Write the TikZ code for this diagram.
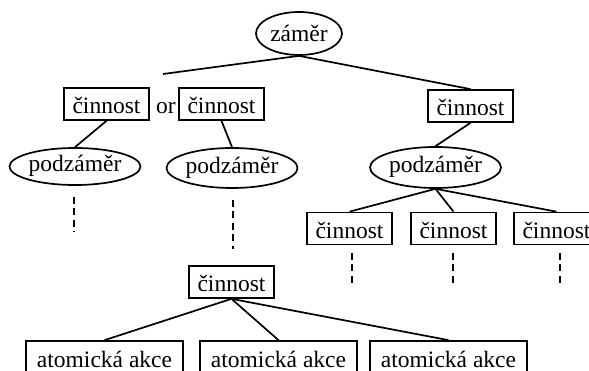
\documentclass[tikz,border=0pt]{standalone}
\usepackage{fontspec}
\setmainfont{Liberation Serif}
\usetikzlibrary{shapes.geometric}
\begin{document}
\begin{tikzpicture}[x=1pt,y=-1pt,
  every node/.style={font=\fontsize{23.5}{28}\selectfont},
  line/.style={line width=1.7pt},
  dline/.style={line width=1.7pt,dash pattern=on 7pt off 4.5pt},
  box/.style={draw,line width=1.7pt,inner sep=0pt,minimum height=32pt,text height=20pt,text depth=0pt},
  actbox/.style={box,minimum width=85pt},
  atombox/.style={box,minimum width=157pt},
  goal/.style={draw,ellipse,line width=1.7pt,inner sep=0pt,text height=15pt,text depth=4pt}]
\clip (0,0) rectangle (589,371);
% nodes
\node[goal,minimum width=86pt,minimum height=43pt,text height=17pt,text depth=1pt] (root) at (299,33.5) {záměr};
\node[actbox] (a1) at (106.5,104) {činnost};
\node[text height=20pt,text depth=0pt,inner sep=0pt] (or) at (166,104) {or};
\node[actbox] (a2) at (221.5,104) {činnost};
\node[actbox] (a3) at (470.5,106) {činnost};
\node[goal,minimum width=126pt,minimum height=37pt] (p1) at (75,166.5) {podzáměr};
\node[goal,minimum width=130pt,minimum height=40pt] (p2) at (232,168) {podzáměr};
\node[goal,minimum width=127pt,minimum height=41pt] (p3) at (435.5,167.5) {podzáměr};
\node[actbox] (b1) at (349.5,228.5) {činnost};
\node[actbox] (b2) at (453.5,228.5) {činnost};
\node[actbox] (b3) at (556.5,228.5) {činnost};
\node[actbox] (c) at (231.5,282) {činnost};
\node[atombox] (t1) at (104.5,357) {atomická akce};
\node[atombox] (t2) at (278.5,357) {atomická akce};
\node[atombox] (t3) at (448.5,357) {atomická akce};
% free ends
\coordinate (free) at (163,74);
\coordinate (d1a) at (74,197); \coordinate (d1b) at (74,232);
\coordinate (d2a) at (233,200); \coordinate (d2b) at (233,249);
\coordinate (d3a) at (352,253); \coordinate (d3b) at (352,287);
\coordinate (d4a) at (453,253); \coordinate (d4b) at (453,287);
\coordinate (d5a) at (560,253); \coordinate (d5b) at (560,287);
% connectors
\draw[line] (root.south) -- (free);
\draw[line] (root.south) -- (a3.north);
\draw[line] (a1.south) -- (p1.north);
\draw[line] (a2.south) -- (p2.north);
\draw[line] (a3.south) -- (p3.north);
\draw[line] (p3.south) -- (b1.north);
\draw[line] (p3.south) -- (b2.north);
\draw[line] (p3.south) -- (b3.north);
\draw[line] (c.south) -- (t1.north);
\draw[line] (c.south) -- (t2.north);
\draw[line] (c.south) -- (t3.north);
\draw[dline] (d1a) -- (d1b);
\draw[dline] (d2a) -- (d2b);
\draw[dline] (d3a) -- (d3b);
\draw[dline] (d4a) -- (d4b);
\draw[dline] (d5a) -- (d5b);
\end{tikzpicture}
\end{document}
